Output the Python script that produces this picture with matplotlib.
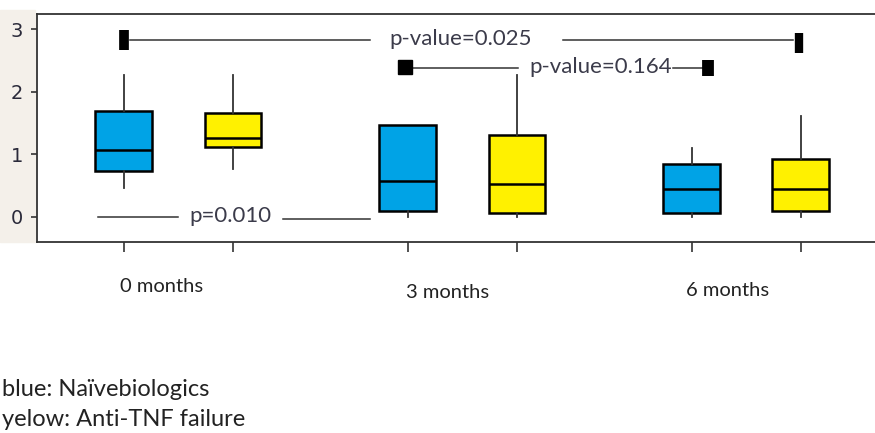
import numpy as np
import matplotlib.pyplot as plt
from matplotlib.patches import Rectangle

# Datos (boxplots por grupo)
groups = ['0 months', '3 months', '6 months']
naive_lo = [0.46, 0.0, 0.0]
naive_q1 = [0.73, 0.10, 0.07]
naive_med = [1.07, 0.57, 0.45]
naive_q3 = [1.69, 1.47, 0.85]
naive_hi = [2.27, 1.47, 1.10]
fail_lo = [0.77, 0.0, 0.0]
fail_q1 = [1.12, 0.07, 0.10]
fail_med = [1.26, 0.53, 0.45]
fail_q3 = [1.66, 1.31, 0.93]
fail_hi = [2.27, 2.27, 1.61]

p_texts = ['p-value=0.025', 'p-value=0.164', 'p=0.010']
legend_lines = ['blue: Naïvebiologics', 'yelow: Anti-TNF failure']

blue = '#00a3e6'
yellow = '#fff100'
txt_color = '#3b3b4a'
font = ['Lato', 'DejaVu Sans']

fig = plt.figure(figsize=(8.75, 4.33), dpi=100)
# franja beige detras de las etiquetas del eje y
fig.patches.append(Rectangle((0, 1 - 242 / 433), 35 / 875, 232 / 433,
                             transform=fig.transFigure, color='#f4f0ea', zorder=-1))
ax = fig.add_axes([37 / 875, 1 - 242 / 433, 1 - 37 / 875, 228 / 433])
ax.set_zorder(1)

off = 0.192
x = np.arange(len(groups))
pos_naive = x - off
pos_fail = x + off


def make_stats(lo, q1, med, q3, hi):
    return [dict(whislo=a, q1=b, med=c, q3=d, whishi=e, fliers=[])
            for a, b, c, d, e in zip(lo, q1, med, q3, hi)]


for stats, pos, col in [(make_stats(naive_lo, naive_q1, naive_med, naive_q3, naive_hi), pos_naive, blue),
                        (make_stats(fail_lo, fail_q1, fail_med, fail_q3, fail_hi), pos_fail, yellow)]:
    ax.bxp(stats, positions=pos, widths=0.2, patch_artist=True, showcaps=False,
           boxprops=dict(facecolor=col, edgecolor='black', linewidth=1.8),
           medianprops=dict(color='black', linewidth=1.8),
           whiskerprops=dict(color='#333333', linewidth=1.3))

# p-value=0.025
ax.plot([-0.171, 0.674], [2.82, 2.82], color='#333333', lw=1.1)
ax.plot([1.354, 2.164], [2.82, 2.82], color='#333333', lw=1.1)
ax.plot([pos_naive[0]], [2.82], marker='|', ms=15, mew=7, color='black')
ax.plot([pos_fail[2] - 0.008], [2.77], marker='|', ms=15, mew=6, color='black')
ax.text(0.994, 2.84, p_texts[0], ha='center', va='center', fontsize=16,
        color=txt_color, family=font)

# p-value=0.164
ax.plot([pos_naive[1], 1.195], [2.38, 2.38], color='#333333', lw=1.1)
ax.plot([1.741, 1.865], [2.38, 2.38], color='#333333', lw=1.1)
ax.plot([pos_naive[1] - 0.01], [2.39], marker='s', ms=10, color='black')
ax.plot([1.865], [2.38], marker='|', ms=11.5, mew=8.5, color='black')
ax.text(1.488, 2.40, p_texts[1], ha='center', va='center', fontsize=16,
        color=txt_color, family=font)

# p=0.010
ax.plot([-0.283, -0.002], [0.0, 0.0], color='#333333', lw=1.1)
ax.plot([0.368, 0.674], [-0.025, -0.025], color='#333333', lw=1.1)
ax.text(0.182, 0.01, p_texts[2], ha='center', va='center', fontsize=16,
        color=txt_color, family=font)

ax.set_xlim(-0.498, 2.453)
ax.set_ylim(-0.40, 3.24)
ax.set_yticks([0, 1, 2, 3])
ax.set_yticklabels(['0', '1', '2', '3'], fontsize=14, color='#2a2a3a')
ax.set_xticks(np.concatenate([pos_naive, pos_fail]))
ax.set_xticklabels([])
ax.tick_params(axis='x', length=7, width=1.2, color='#333333')
ax.tick_params(axis='y', length=4, width=1.2, color='#333333', pad=6)
ax.spines['right'].set_visible(False)
for s in ['left', 'top', 'bottom']:
    ax.spines[s].set_linewidth(1.3)
    ax.spines[s].set_color('#333333')

# etiquetas de grupo
label_px = [(162, 286), (448, 293), (728, 290)]
for g, (px, py) in zip(groups, label_px):
    fig.text(px / 875, 1 - py / 433, g, ha='center', va='center', fontsize=14.5,
             color='#222222', family=font)

fig.text(2 / 875, 1 - 389 / 433, legend_lines[0], ha='left', va='center', fontsize=17,
         color='#222222', family=font)
fig.text(2 / 875, 1 - 420 / 433, legend_lines[1], ha='left', va='center', fontsize=17,
         color='#222222', family=font)

fig.savefig('out.png', dpi=100)
